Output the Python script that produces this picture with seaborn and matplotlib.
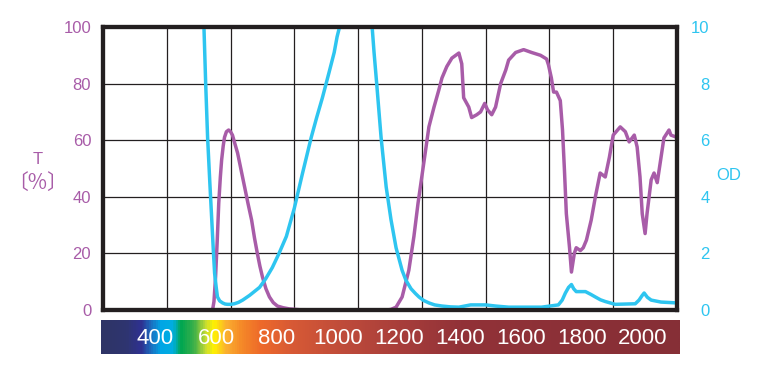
import matplotlib
matplotlib.use("Agg")
import matplotlib.pyplot as plt
import numpy as np
import seaborn as sns
from matplotlib.colors import LinearSegmentedColormap

# transmittance curve (nm, %)
t_wl = [200, 540, 544, 548, 553, 558, 563, 568, 572, 577, 581, 587, 594, 600, 606, 613, 622, 633,
        644, 655, 666, 675, 684, 692, 700, 711, 722, 734, 747, 765, 784, 816,
        1090, 1103, 1119, 1138, 1159, 1175, 1188, 1206, 1222, 1238, 1253, 1263, 1278, 1294, 1316,
        1325, 1331, 1347, 1356, 1372, 1384, 1397, 1406, 1419, 1431, 1447, 1463, 1472, 1494,
        1519, 1544, 1572, 1591, 1597, 1606, 1613, 1622, 1634, 1641, 1647, 1653, 1663, 1669,
        1678, 1684, 1697, 1706, 1716, 1731, 1744, 1759, 1775, 1788, 1800, 1822, 1838, 1850,
        1866, 1875, 1884, 1891, 1900, 1906, 1919, 1928, 1938, 1950, 1959, 1975, 1981, 2000]
t_val = [0, 0, 0.3, 3, 11.7, 24, 37.8, 47, 53, 58, 61, 63, 63.6, 63, 61.8, 59, 55.5, 49.5,
         43.5, 37.5, 31.8, 25.5, 20, 15.5, 11.7, 7.5, 4.6, 2.6, 1.4, 0.8, 0.4, 0.1,
         0, 0.2, 1, 4.6, 14, 26, 37.8, 52, 64.7, 71.7, 77.7, 82, 86, 89, 90.8,
         87, 75, 71.7, 68, 69, 70, 73, 70.7, 69, 71.7, 80, 84.8, 88.3, 91,
         92, 91, 90, 88.7, 86.6, 82, 77, 77, 74, 63.6, 49.5, 34, 22, 13.4,
         20, 22, 21, 22, 24.7, 31.8, 40, 48.4, 47, 54, 61.8, 64.7, 63, 59.4,
         61.8, 57.6, 47, 34, 27, 34, 46, 48.4, 45, 54, 60.8, 63.6, 61.8, 61]

# optical density curve (nm, OD)
od_wl = [200, 500, 516, 522, 528, 535, 541, 546, 550, 555, 559, 566, 575, 583, 591, 600, 612,
         625, 638, 660, 691, 710, 731, 752, 775, 800, 825, 853, 870, 888,
         909, 925, 934, 944, 960, 1030, 1044, 1050, 1059, 1072, 1088, 1103, 1119, 1138, 1150,
         1166, 1180, 1191, 1205, 1222, 1240, 1263, 1290, 1316, 1353, 1400, 1431, 1472, 1575,
         1628, 1640, 1650, 1660, 1669, 1676, 1684, 1713, 1730, 1744, 1760, 1775, 1806, 1869,
         1881, 1890, 1897, 1907, 1919, 1950, 2000]
od_val = [12, 12, 10.2, 8.0, 6.1, 4.5, 3.2, 2.1, 1.3, 0.8, 0.46, 0.32, 0.25, 0.21, 0.2, 0.2, 0.22,
          0.27, 0.35, 0.52, 0.8, 1.1, 1.5, 2.0, 2.6, 3.6, 4.8, 6.1, 6.8, 7.5,
          8.4, 9.1, 9.65, 10.1, 12, 12, 10.0, 9.1, 7.9, 6.1, 4.35, 3.2, 2.2, 1.4, 1.05,
          0.75, 0.58, 0.46, 0.34, 0.25, 0.18, 0.14, 0.11, 0.1, 0.18, 0.18, 0.14, 0.1, 0.1,
          0.18, 0.35, 0.6, 0.8, 0.9, 0.75, 0.65, 0.65, 0.55, 0.46, 0.36, 0.3, 0.2, 0.22,
          0.35, 0.5, 0.6, 0.45, 0.35, 0.28, 0.25]

t_ticks = [0, 20, 40, 60, 80, 100]
od_ticks = [0, 2, 4, 6, 8, 10]
wl_grid = list(range(200, 2001, 200))
bar_labels = [400, 600, 800, 1000, 1200, 1400, 1600, 1800, 2000]

spec_nm = [223, 302, 351, 384, 416, 456, 482, 525, 564, 590, 630, 679, 744, 843, 1007, 1203, 1400, 2121]
spec_col = ["#2e3466", "#2f3570", "#2e3192", "#1b6fc0", "#00a6e6", "#00aee0", "#00a651", "#3cb04a",
            "#c8dc32", "#fff200", "#fbb030", "#f58a28", "#ee6a2a", "#d85a35", "#c04c3a", "#a83e3b",
            "#923238", "#862f36"]

purple = "#a85ca8"
cyan = "#2ec5f0"

sns.set_style("white")
plt.rcParams['font.family'] = ['Liberation Sans', 'Noto Sans CJK JP', 'DejaVu Sans']

fig = plt.figure(figsize=(7.81, 3.71), dpi=100)
ax = fig.add_axes([103/781, 1-310/371, 574/781, 283/371])
ax2 = ax.twinx()

sns.lineplot(x=t_wl, y=t_val, ax=ax, color=purple, lw=2.5)
sns.lineplot(x=od_wl, y=od_val, ax=ax2, color=cyan, lw=2.5)

ax.set_xlim(200, 2000)
ax.set_ylim(0, 100)
ax2.set_ylim(0, 10)
ax.set_xticks(wl_grid)
ax.set_xticklabels([])
ax.set_yticks(t_ticks)
ax2.set_yticks(od_ticks)
ax.grid(True, color="#231f20", lw=0.9)
ax2.grid(False)
ax.tick_params(axis='both', length=0)
ax.tick_params(axis='y', labelsize=12, labelcolor=purple, pad=8.5)
ax2.tick_params(axis='y', length=0, labelsize=12, labelcolor=cyan, pad=23.5)
for lab in ax2.get_yticklabels():
    lab.set_ha('right')
for a in (ax, ax2):
    a.set_xlabel("")
    a.set_ylabel("")
    for s in a.spines.values():
        s.set_linewidth(3)
        s.set_color("#231f20")

fig.text(38/781, 1-159/371, "T", color=purple, fontsize=12, ha='center', va='center')
fig.text(38/781, 1-183/371, "〔%〕", color=purple, fontsize=15, ha='center', va='center',
         family=['Noto Sans CJK JP', 'DejaVu Sans'])
fig.text(729/781, 1-175/371, "OD", color=cyan, fontsize=12, ha='center', va='center')

# spectrum strip with its own wavelength labels
bax = fig.add_axes([101/781, 1-354/371, 579/781, 34/371])
cmap = LinearSegmentedColormap.from_list(
    "spec", [((n - spec_nm[0]) / (spec_nm[-1] - spec_nm[0]), c) for n, c in zip(spec_nm, spec_col)])
grad = np.linspace(0, 1, 600)[None, :]
bax.imshow(grad, aspect='auto', cmap=cmap, extent=[spec_nm[0], spec_nm[-1], 0, 1])
bax.set_xlim(spec_nm[0], spec_nm[-1])
bax.set_ylim(0, 1)
for v in bar_labels:
    bax.text(v, 0.47, str(v), color="white", fontsize=16, ha='center', va='center')
bax.axis('off')

fig.savefig("out.png", dpi=100)
